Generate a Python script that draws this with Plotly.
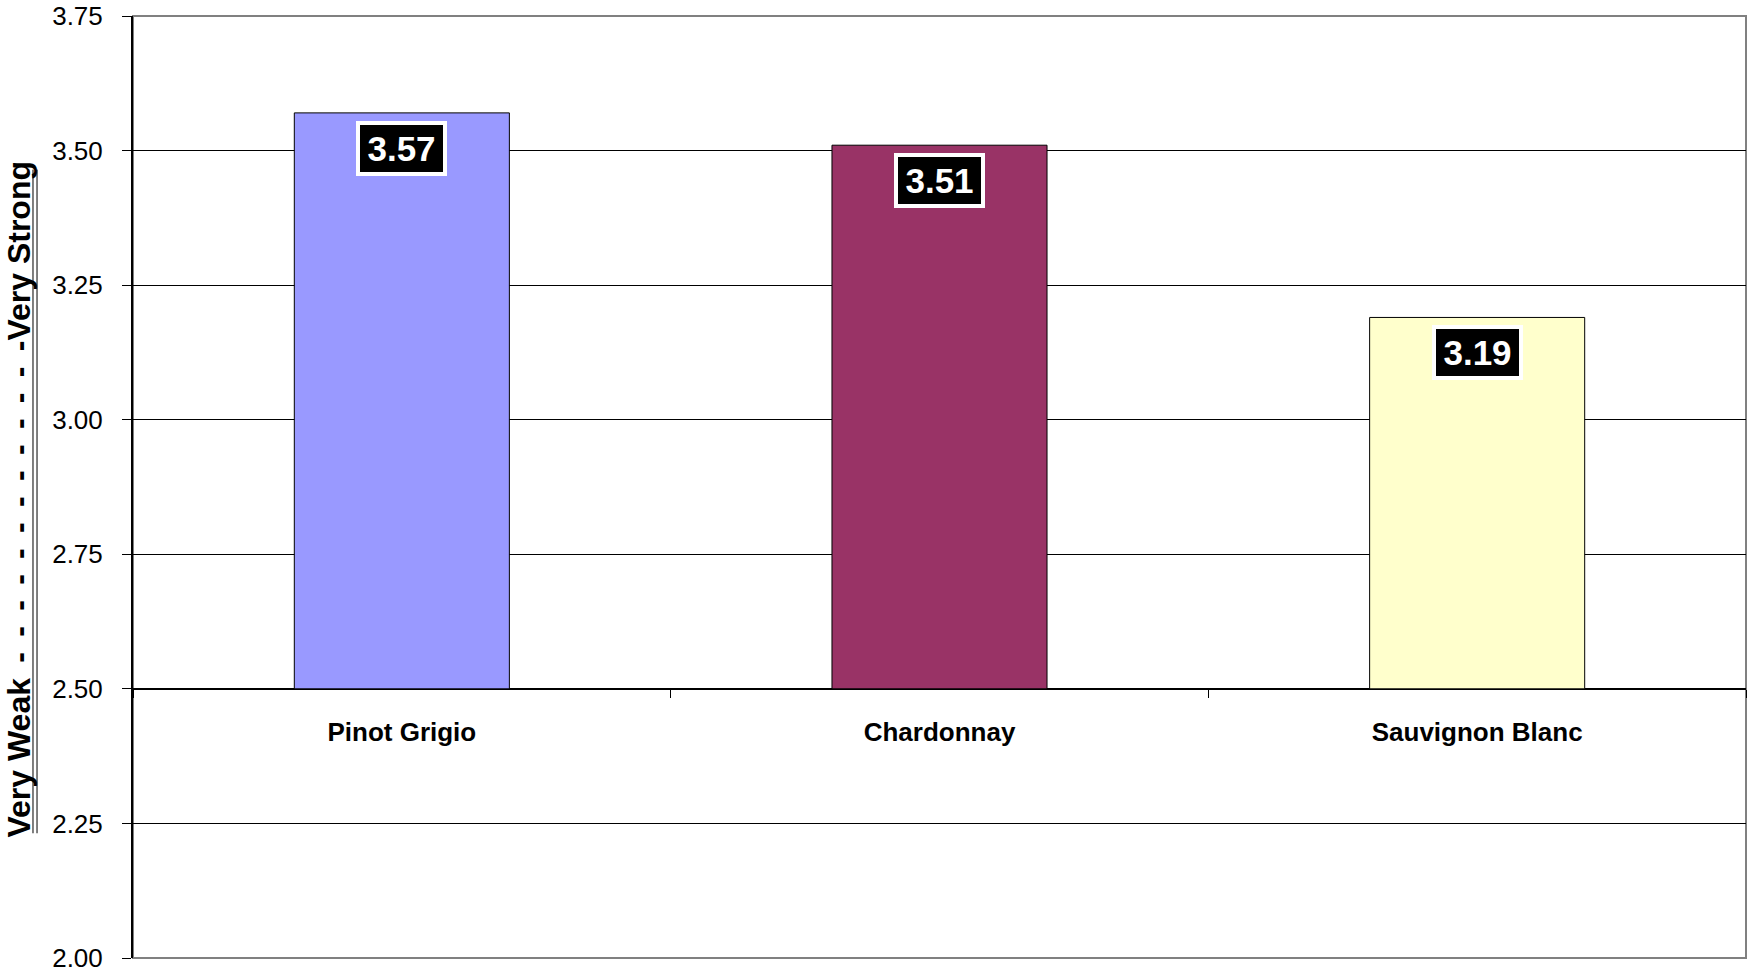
import plotly.graph_objects as go

# Wine varietals and their mean intensity scores
varietals = ["Pinot Grigio", "Chardonnay", "Sauvignon Blanc"]
scores = [3.57, 3.51, 3.19]
bar_colors = ["#9999FF", "#993366", "#FFFFCC"]

# Axis configuration
y_min, y_max, y_step = 2.00, 3.75, 0.25
bar_base = 2.50
gap = "\u00a0\u2009"
axis_title = "Very Weak" + gap + (("-" + gap) * 12) + "-" + "Very Strong"

FONT = "Liberation Sans, Arial, sans-serif"

fig = go.Figure()

fig.add_trace(go.Bar(
    x=varietals,
    y=[s - bar_base for s in scores],
    base=bar_base,
    width=0.4,
    marker=dict(color=bar_colors, line=dict(color="black", width=1)),
    hoverinfo="skip",
))

# Value boxes just inside the top of each bar
for name, s in zip(varietals, scores):
    fig.add_annotation(
        x=name, y=s, xref="x", yref="y",
        text=f"<b>{s:.2f}</b>",
        showarrow=False,
        yanchor="top", yshift=-8,
        font=dict(family=FONT, size=35, color="white"),
        bgcolor="black",
        bordercolor="white", borderwidth=4, borderpad=2,
        width=79, height=43,
    )

# Rotated axis caption
fig.add_annotation(
    x=-0.0705, y=0.487, xref="paper", yref="paper",
    text=f"<b>{axis_title}</b>",
    textangle=-90, showarrow=False,
    xanchor="center", yanchor="middle",
    font=dict(family=FONT, size=32, color="black"),
)

# Double underline of the caption
for px in (-0.0620, -0.0595):
    fig.add_shape(type="line", xref="paper", yref="paper",
                  x0=px, x1=px, y0=0.1324, y1=0.8369,
                  line=dict(color="black", width=1))

# Grey frame around the plot area
fig.add_shape(type="rect", xref="paper", yref="paper",
              x0=0, x1=1, y0=0, y1=1,
              line=dict(color="#808080", width=2), layer="below")

fig.update_layout(
    width=1747, height=980,
    margin=dict(l=133, r=1, t=14, b=22),
    paper_bgcolor="white", plot_bgcolor="white",
    showlegend=False,
    font=dict(family=FONT, color="black"),
    xaxis=dict(
        anchor="free",
        position=(bar_base - y_min) / (y_max - y_min),
        showline=True, linecolor="black", linewidth=1,
        ticks="outside", tickson="boundaries", ticklen=8,
        tickcolor="black", tickwidth=1,
        showgrid=False,
        tickfont=dict(family=FONT, size=26, color="black", weight="bold"),
        ticklabelstandoff=20,
        range=[-0.5, 2.5],
    ),
    yaxis=dict(
        range=[y_min, y_max],
        dtick=y_step, tick0=y_min,
        tickformat=".2f",
        showline=True, linecolor="black", linewidth=2,
        ticks="outside", ticklen=9, tickcolor="black", tickwidth=1,
        showgrid=True, gridcolor="black", gridwidth=1,
        tickfont=dict(family=FONT, size=26, color="black"),
        ticklabelstandoff=14,
        ticklabeloverflow="allow",
        zeroline=False,
    ),
)

fig.write_html("out.html")
